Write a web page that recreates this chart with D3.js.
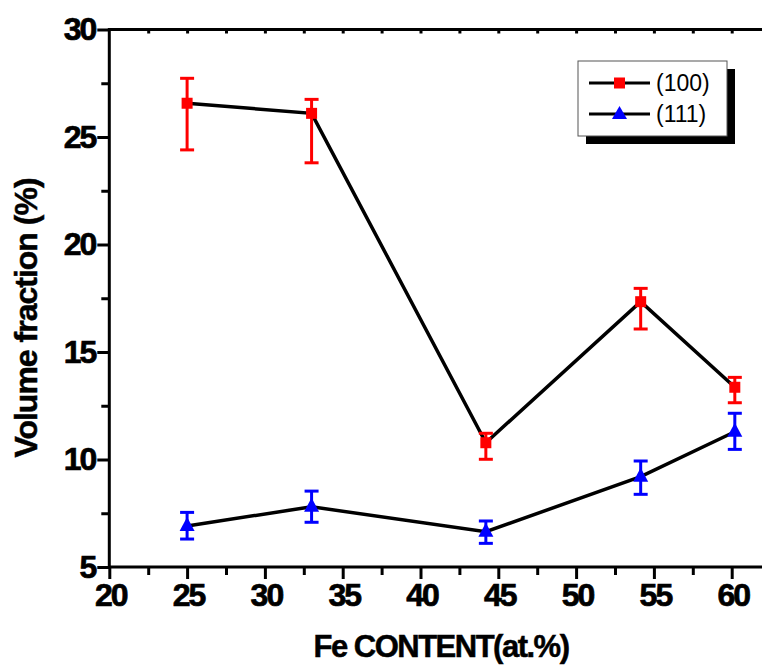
<!DOCTYPE html>
<html><head><meta charset="utf-8">
<script src="https://cdn.jsdelivr.net/npm/d3@7"></script>
<style>
body{margin:0;background:#fff;}
svg text{font-family:"Liberation Sans",Arial,sans-serif;}
</style></head>
<body><svg id="c" width="762" height="665"></svg>
<script>
const feContent = [25, 33, 44.2, 54.15, 60.2];
const vf100 = [26.57, 26.10, 10.78, 17.34, 13.36];
const vf100Hi = [27.73, 26.75, 11.22, 17.96, 13.82];
const vf100Lo = [24.40, 23.80, 10.01, 16.07, 12.64];
const vf111 = [6.91, 7.80, 6.64, 9.20, 11.29];
const vf111Hi = [7.54, 8.53, 7.14, 9.93, 12.15];
const vf111Lo = [6.30, 7.08, 6.10, 8.38, 10.47];
const xTicks = [20, 25, 30, 35, 40, 45, 50, 55, 60];
const yTicks = [5, 10, 15, 20, 25, 30];
const seriesNames = ["(100)", "(111)"];

const svg = d3.select("#c");
const x = d3.scaleLinear().domain([20, 60]).range([109.3, 731.7]);
const y = d3.scaleLinear().domain([5, 30]).range([567, 29.5]);
const xMax = x.invert(770);

// axes lines
const axisW = 3;
svg.append("line").attr("x1", x(20)).attr("x2", 770).attr("y1", y(5)).attr("y2", y(5)).attr("stroke","#000").attr("stroke-width",axisW);
svg.append("line").attr("x1", x(20)).attr("x2", 770).attr("y1", y(30)).attr("y2", y(30)).attr("stroke","#000").attr("stroke-width",axisW);
svg.append("line").attr("x1", x(20)).attr("x2", x(20)).attr("y1", y(30)-1.5).attr("y2", y(5)+1.5).attr("stroke","#000").attr("stroke-width",axisW);

// bottom axis via d3
const xMinor = d3.range(22.5, xMax, 5);
const gxMajor = svg.append("g").attr("transform",`translate(0,${y(5)})`)
  .call(d3.axisBottom(x).tickValues(xTicks).tickSize(12).tickPadding(4).tickFormat(d3.format("d")));
gxMajor.select(".domain").remove();
gxMajor.selectAll(".tick line").attr("stroke-width",3);
gxMajor.selectAll(".tick text").attr("font-size",32).attr("font-weight","bold").attr("letter-spacing","-2px").attr("dx","1")
  .attr("fill","#000").attr("stroke","#000").attr("stroke-width",0.7);
const gxMinor = svg.append("g").attr("transform",`translate(0,${y(5)})`)
  .call(d3.axisBottom(x).tickValues(xMinor).tickSize(8).tickFormat(""));
gxMinor.select(".domain").remove();
gxMinor.selectAll(".tick line").attr("stroke-width",3);

// top axis small inward ticks
const gxTop = svg.append("g").attr("transform",`translate(0,${y(30)})`)
  .call(d3.axisBottom(x).tickValues(xTicks.concat(xMinor).filter(d=>d>20)).tickSize(4).tickFormat(""));
gxTop.select(".domain").remove();
gxTop.selectAll(".tick line").attr("stroke-width",3);

// left axis
const gyMajor = svg.append("g").attr("transform",`translate(${x(20)},0)`)
  .call(d3.axisLeft(y).tickValues(yTicks).tickSize(12).tickPadding(2).tickFormat(d3.format("d")));
gyMajor.select(".domain").remove();
gyMajor.selectAll(".tick line").attr("stroke-width",3);
gyMajor.selectAll(".tick text").attr("font-size",32).attr("font-weight","bold").attr("letter-spacing","-2px")
  .attr("fill","#000").attr("stroke","#000").attr("stroke-width",0.7);
const gyMinor = svg.append("g").attr("transform",`translate(${x(20)},0)`)
  .call(d3.axisLeft(y).tickValues(d3.range(7.5, 30, 5)).tickSize(8).tickFormat(""));
gyMinor.select(".domain").remove();
gyMinor.selectAll(".tick line").attr("stroke-width",3);

// axis titles
svg.append("text").attr("x", 441).attr("y", 657).attr("text-anchor","middle")
  .attr("font-size",31).attr("font-weight","bold").attr("letter-spacing","-1.5px")
  .attr("stroke","#000").attr("stroke-width",0.5).text("Fe CONTENT(at.%)");
svg.append("text").attr("transform","translate(37,318) rotate(-90)").attr("text-anchor","middle")
  .attr("font-size",32).attr("font-weight","bold").attr("letter-spacing","-1px")
  .attr("stroke","#000").attr("stroke-width",0.5).text("Volume fraction (%)");

const line = d3.line().x(d=>x(d[0])).y(d=>y(d[1]));
const d100 = feContent.map((v,i)=>[v, vf100[i], vf100Hi[i], vf100Lo[i]]);
const d111 = feContent.map((v,i)=>[v, vf111[i], vf111Hi[i], vf111Lo[i]]);

function drawSeries(data, color, shape){
  svg.append("path").datum(data).attr("d", line).attr("fill","none").attr("stroke","#000").attr("stroke-width",3.5).attr("stroke-linejoin","miter");
  const g = svg.append("g");
  data.forEach(d=>{
    g.append("line").attr("x1",x(d[0])).attr("x2",x(d[0])).attr("y1",y(d[2])).attr("y2",y(d[3])).attr("stroke",color).attr("stroke-width",3);
    [d[2], d[3]].forEach(v=>{
      g.append("line").attr("x1",x(d[0])-7).attr("x2",x(d[0])+7).attr("y1",y(v)).attr("y2",y(v)).attr("stroke",color).attr("stroke-width",3);
    });
    if(shape==="square"){
      g.append("rect").attr("x",x(d[0])-5.5).attr("y",y(d[1])-5.5).attr("width",11).attr("height",11).attr("fill",color);
    } else {
      g.append("path").attr("transform",`translate(${x(d[0])},${y(d[1])})`).attr("d","M0,-9 L7.5,5 L-7.5,5 Z").attr("fill",color);
    }
  });
}
drawSeries(d100, "#ff0000", "square");
drawSeries(d111, "#0000ff", "triangle");

// legend
const lg = svg.append("g");
lg.append("rect").attr("x",586).attr("y",69).attr("width",149).attr("height",75).attr("fill","#000");
lg.append("rect").attr("x",578).attr("y",61).attr("width",149).attr("height",75).attr("fill","#fff").attr("stroke","#555").attr("stroke-width",1);
[83, 114].forEach((yy,i)=>{
  lg.append("line").attr("x1",589).attr("x2",650).attr("y1",yy).attr("y2",yy).attr("stroke","#000").attr("stroke-width",3);
  if(i===0) lg.append("rect").attr("x",614).attr("y",yy-5.5).attr("width",11).attr("height",11).attr("fill","#ff0000");
  else lg.append("path").attr("transform",`translate(619.5,${yy})`).attr("d","M0,-8 L7.5,5 L-7.5,5 Z").attr("fill","#0000ff");
  lg.append("text").attr("x",656).attr("y",yy+8).attr("font-size",23).text(seriesNames[i]);
});
</script></body></html>
